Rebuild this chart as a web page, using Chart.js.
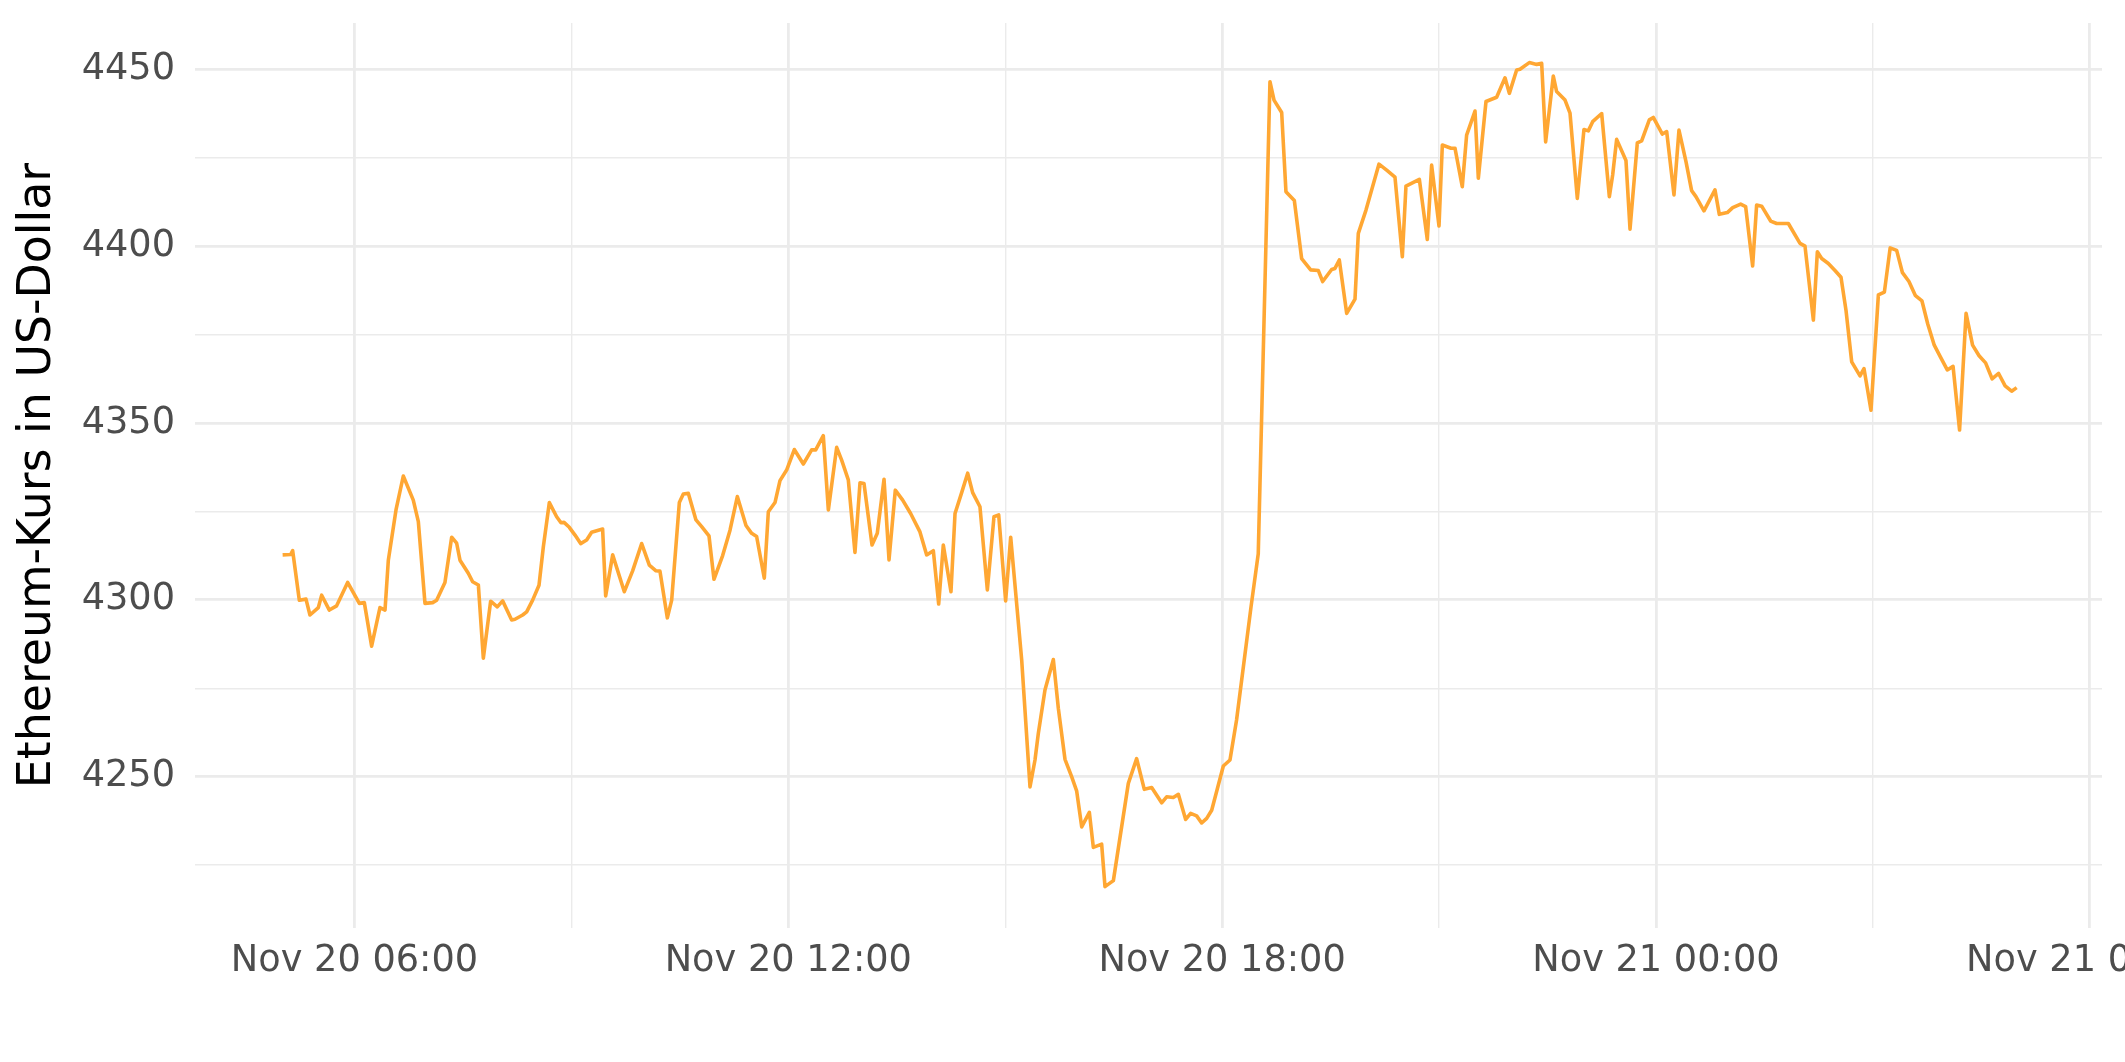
<!DOCTYPE html>
<html>
<head>
<meta charset="utf-8">
<script src="https://cdn.jsdelivr.net/npm/chart.js@4.4.1/dist/chart.umd.min.js"></script>
<style>
  html, body { margin: 0; padding: 0; background: #ffffff; }
  canvas { display: block; }
</style>
</head>
<body>
<canvas id="ethChart" width="2125" height="1062"></canvas>
<script>
// time in hours since Nov 20 00:00
const timeH = [
  5.006, 5.117, 5.145, 5.237, 5.329, 5.384, 5.500, 5.546, 5.652, 5.753,
  5.905, 6.067, 6.136, 6.237, 6.352, 6.422, 6.468, 6.574, 6.675, 6.813,
  6.883, 6.975, 7.081, 7.136, 7.251, 7.344, 7.413, 7.459, 7.574, 7.634,
  7.713, 7.782, 7.883, 7.975, 8.049, 8.174, 8.220, 8.326, 8.381, 8.464,
  8.552, 8.612, 8.695, 8.796, 8.856, 8.898, 8.971, 9.050, 9.128, 9.211,
  9.280, 9.432, 9.474, 9.571, 9.732, 9.847, 9.972, 10.078, 10.170, 10.225,
  10.327, 10.387, 10.493, 10.548, 10.617, 10.723, 10.802, 10.903, 10.972, 11.092,
  11.194, 11.295, 11.415, 11.493, 11.562, 11.668, 11.724, 11.816, 11.885, 11.977,
  12.083, 12.208, 12.323, 12.379, 12.484, 12.554, 12.669, 12.738, 12.830, 12.922,
  12.992, 13.047, 13.158, 13.231, 13.324, 13.393, 13.480, 13.582, 13.692, 13.821,
  13.914, 14.006, 14.080, 14.144, 14.250, 14.306, 14.398, 14.481, 14.550, 14.651,
  14.753, 14.845, 14.910, 15.006, 15.076, 15.228, 15.343, 15.412, 15.458, 15.550,
  15.666, 15.735, 15.827, 15.919, 15.988, 16.058, 16.164, 16.219, 16.334, 16.380,
  16.496, 16.703, 16.818, 16.924, 17.026, 17.164, 17.233, 17.325, 17.395, 17.496,
  17.565, 17.648, 17.717, 17.787, 17.856, 18.017, 18.109, 18.200, 18.300, 18.400,
  18.500, 18.662, 18.718, 18.824, 18.883, 18.999, 19.100, 19.225, 19.331, 19.391,
  19.515, 19.561, 19.621, 19.723, 19.838, 19.884, 19.990, 20.170, 20.276, 20.391,
  20.493, 20.543, 20.728, 20.838, 20.898, 21.000, 21.046, 21.166, 21.221, 21.322,
  21.382, 21.498, 21.544, 21.650, 21.797, 21.913, 21.973, 22.074, 22.120, 22.249,
  22.351, 22.420, 22.475, 22.581, 22.627, 22.743, 22.812, 22.913, 23.005, 23.065,
  23.125, 23.250, 23.356, 23.402, 23.457, 23.586, 23.642, 23.743, 23.803, 23.909,
  23.964, 24.089, 24.149, 24.250, 24.319, 24.416, 24.494, 24.554, 24.665, 24.817,
  24.877, 24.988, 25.062, 25.172, 25.241, 25.338, 25.393, 25.463, 25.587, 25.670,
  25.832, 25.993, 26.062, 26.178, 26.233, 26.293, 26.385, 26.477, 26.560, 26.629,
  26.708, 26.823, 26.878, 26.975, 27.077, 27.160, 27.240, 27.330, 27.410, 27.500,
  27.590, 27.680, 27.760, 27.850, 27.940, 28.030, 28.110, 28.200, 28.290, 28.380,
  28.470, 28.560, 28.650, 28.740, 28.830, 28.920, 28.990
];

const price = [
  4312.7, 4312.8, 4313.9, 4299.9, 4300.2, 4295.7, 4297.8, 4301.3, 4297.1, 4298.3,
  4304.9, 4299.0, 4299.2, 4286.9, 4297.8, 4297.1, 4311.2, 4325.4, 4335.0, 4328.2,
  4322.1, 4299.0, 4299.2, 4299.9, 4304.9, 4317.7, 4316.0, 4311.2, 4307.5, 4305.1,
  4304.2, 4283.5, 4299.6, 4298.0, 4299.7, 4294.3, 4294.5, 4295.7, 4296.6, 4299.9,
  4304.1, 4315.0, 4327.5, 4323.5, 4321.8, 4321.9, 4320.5, 4318.3, 4315.9, 4316.9,
  4319.1, 4320.0, 4301.1, 4312.7, 4302.3, 4308.2, 4315.9, 4309.8, 4308.2, 4308.1,
  4294.9, 4299.9, 4327.5, 4329.9, 4330.1, 4322.6, 4320.7, 4318.1, 4305.8, 4312.5,
  4319.7, 4329.2, 4321.0, 4318.8, 4317.9, 4306.1, 4324.9, 4327.5, 4333.7, 4336.7,
  4342.5, 4338.4, 4342.4, 4342.4, 4346.4, 4325.4, 4343.1, 4339.5, 4333.9, 4313.4,
  4333.1, 4332.9, 4315.5, 4318.8, 4334.1, 4311.3, 4331.0, 4328.2, 4324.4, 4319.2,
  4312.7, 4313.9, 4298.8, 4315.5, 4302.3, 4324.4, 4330.3, 4335.8, 4330.3, 4326.3,
  4302.8, 4323.5, 4324.0, 4299.7, 4317.7, 4283.0, 4247.1, 4254.7, 4262.2, 4274.5,
  4283.1, 4269.3, 4254.9, 4250.0, 4246.0, 4235.8, 4239.9, 4230.0, 4230.9, 4218.9,
  4220.6, 4248.1, 4255.1, 4246.4, 4246.9, 4242.6, 4244.3, 4244.1, 4245.0, 4237.9,
  4239.6, 4238.9, 4236.9, 4238.2, 4240.5, 4253.0, 4254.7, 4266.0, 4282.0, 4298.0,
  4313.0, 4446.5, 4441.3, 4437.8, 4415.4, 4412.9, 4396.5, 4393.3, 4393.1, 4390.0,
  4393.4, 4393.7, 4396.1, 4381.0, 4385.0, 4403.6, 4410.2, 4423.2, 4421.5, 4419.5,
  4397.0, 4417.0, 4418.9, 4401.9, 4422.9, 4405.7, 4428.6, 4427.7, 4427.7, 4416.8,
  4431.4, 4438.2, 4419.2, 4440.9, 4442.1, 4447.6, 4443.2, 4449.8, 4450.0, 4451.9,
  4451.4, 4451.7, 4429.5, 4448.1, 4443.7, 4441.3, 4437.6, 4413.5, 4433.0, 4432.6,
  4435.2, 4437.5, 4414.0, 4420.1, 4430.2, 4424.2, 4404.8, 4429.2, 4429.8, 4435.7,
  4436.4, 4431.7, 4432.4, 4414.5, 4432.8, 4423.9, 4415.7, 4414.0, 4410.0, 4415.9,
  4409.0, 4409.5, 4410.9, 4411.9, 4411.2, 4394.4, 4411.6, 4411.3, 4407.1, 4406.4,
  4406.4, 4400.8, 4400.0, 4379.1, 4398.4, 4396.5, 4395.1, 4393.1, 4391.2, 4381.9,
  4367.3, 4363.3, 4365.4, 4353.6, 4386.2, 4387.0, 4399.5, 4398.8, 4392.5, 4390.0,
  4386.0, 4384.5, 4378.0, 4372.0, 4368.5, 4365.0, 4366.0, 4348.0, 4381.0, 4372.0,
  4369.0, 4367.0, 4362.5, 4364.0, 4360.5, 4359.0, 4360.0
];

const xTickHours = [6, 12, 18, 24, 30];
const xTickLabels = ['Nov 20 06:00', 'Nov 20 12:00', 'Nov 20 18:00', 'Nov 21 00:00', 'Nov 21 06:00'];
const xMinorHours = [9, 15, 21, 27];
const yTicks = [4250, 4300, 4350, 4400, 4450];
const yMinor = [4225, 4275, 4325, 4375, 4425];

const GRID = '#EBEBEB';
const AXIS_TEXT = '#4D4D4D';
const FONT = 'DejaVu Sans';

function gridWidth(majors) {
  return ctx => (ctx.tick && majors.includes(ctx.tick.value)) ? 2.8 : 1.4;
}

const ctx = document.getElementById('ethChart').getContext('2d');
new Chart(ctx, {
  type: 'line',
  data: {
    datasets: [{
      data: timeH.map((t, i) => ({ x: t, y: price[i] })),
      borderColor: '#FFA733',
      borderWidth: 3.6,
      borderJoinStyle: 'round',
      pointRadius: 0,
      tension: 0,
      fill: false
    }]
  },
  options: {
    responsive: false,
    animation: false,
    devicePixelRatio: 1,
    layout: { padding: { top: 23, right: 23, left: 0, bottom: 0 } },
    plugins: {
      legend: { display: false },
      tooltip: { enabled: false }
    },
    scales: {
      x: {
        type: 'linear',
        min: 3.794,
        max: 30.17,
        afterBuildTicks: s => {
          s.ticks = [...xTickHours, ...xMinorHours].sort((a, b) => a - b).map(v => ({ value: v }));
        },
        afterFit: s => {
          s.height = 134;
          s.paddingLeft = 0;
          s.paddingRight = 0;
        },
        border: { display: false },
        grid: { color: GRID, lineWidth: gridWidth(xTickHours), drawTicks: false },
        ticks: {
          autoSkip: false,
          maxRotation: 0,
          padding: 11,
          color: AXIS_TEXT,
          font: { family: FONT, size: 36.7 },
          callback: v => {
            const i = xTickHours.indexOf(v);
            return i >= 0 ? xTickLabels[i] : '';
          }
        }
      },
      y: {
        type: 'linear',
        min: 4207.2,
        max: 4463.1,
        afterBuildTicks: s => {
          s.ticks = [...yTicks, ...yMinor].sort((a, b) => a - b).map(v => ({ value: v }));
        },
        afterFit: s => {
          s.width = 195;
          s.paddingTop = 0;
          s.paddingBottom = 0;
        },
        border: { display: false },
        grid: { color: GRID, lineWidth: gridWidth(yTicks), drawTicks: false },
        ticks: {
          padding: 20,
          color: AXIS_TEXT,
          font: { family: FONT, size: 36.7 },
          callback: v => yTicks.includes(v) ? String(v) : ''
        },
        title: {
          display: true,
          text: 'Ethereum-Kurs in US-Dollar',
          color: '#000000',
          font: { family: FONT, size: 45.8 },
          padding: { top: 11, bottom: 0 }
        }
      }
    }
  }
});
</script>
</body>
</html>
